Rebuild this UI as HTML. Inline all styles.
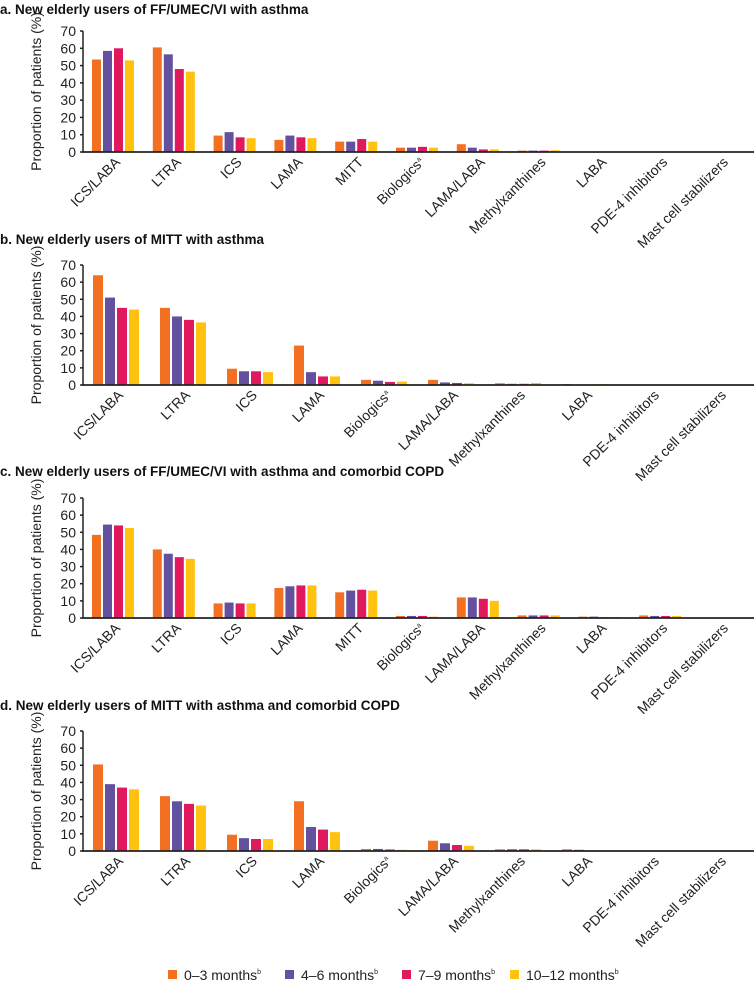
<!DOCTYPE html>
<html><head><meta charset="utf-8"><style>
body{margin:0;background:#fff;}
svg{display:block;font-family:"Liberation Sans",Arial,sans-serif;}
</style></head><body>
<svg id="chart" width="755" height="983" viewBox="0 0 755 983"></svg>
<script>
const series = ["0\u20133 months","4\u20136 months","7\u20139 months","10\u201312 months"];
const colors = ["#F36F21","#6351A0","#E0195F","#FFC20E"];
const catsFull = ["ICS/LABA","LTRA","ICS","LAMA","MITT","Biologics","LAMA/LABA","Methylxanthines","LABA","PDE-4 inhibitors","Mast cell stabilizers"];
const catsNoMitt = ["ICS/LABA","LTRA","ICS","LAMA","Biologics","LAMA/LABA","Methylxanthines","LABA","PDE-4 inhibitors","Mast cell stabilizers"];
const yTicks = [0,10,20,30,40,50,60,70];
const titles = ["a. New elderly users of FF/UMEC/VI with asthma","b. New elderly users of MITT with asthma","c. New elderly users of FF/UMEC/VI with asthma and comorbid COPD","d. New elderly users of MITT with asthma and comorbid COPD"];
const valuesA = [[53.5,58.5,60,53],[60.5,56.5,48,46.5],[9.5,11.5,8.5,8],[7,9.5,8.5,8],[6,6,7.5,6],[2.5,2.5,3,2.5],[4.5,2.5,1.5,1.5],[0.8,0.8,0.8,1],[0,0,0,0],[0,0,0,0],[0,0,0,0]];
const valuesB = [[64,51,45,44],[45,40,38,36.5],[9.5,8,8,7.5],[23,7.5,5,5],[3,2.5,1.8,2],[3,1.5,1.2,1],[1,0.7,0.7,1.2],[0.5,0,0,0.5],[0,0,0,0.3],[0,0,0,0]];
const valuesC = [[48.5,54.5,54,52.5],[40,37.5,35.5,34.5],[8.5,9,8.5,8.5],[17.5,18.5,19,19],[15,16,16.5,16],[1.2,1.2,1.2,0.8],[12,12,11.2,10],[1.5,1.5,1.5,1.5],[0.8,0.8,0.4,0.6],[1.5,1.2,1.2,1.2],[0,0,0,0]];
const valuesD = [[50.5,39,37,36],[32,29,27.5,26.5],[9.5,7.5,7,7],[29,14,12.5,11],[1.2,1.2,0.9,0.7],[6,4.5,3.5,3],[1,1,1,1],[1,0.7,0.3,0.3],[0,0,0,0],[0,0,0,0]];

const NS="http://www.w3.org/2000/svg";
const svg=document.getElementById('chart');
function mk(t,a,p){const e=document.createElementNS(NS,t);for(const k in a)e.setAttribute(k,a[k]);(p||svg).appendChild(e);return e;}

const panels=[
 {t:titles[0],ty:14,cats:catsFull,vals:valuesA,base:152,top:31,c0:113,pitch:60.8,bw:9,gap:2,key:'a'},
 {t:titles[1],ty:244,cats:catsNoMitt,vals:valuesB,base:385,top:265,c0:116,pitch:67,bw:10,gap:2,key:'b'},
 {t:titles[2],ty:476,cats:catsFull,vals:valuesC,base:618,top:498,c0:113,pitch:60.8,bw:9,gap:2,key:'c'},
 {t:titles[3],ty:710,cats:catsNoMitt,vals:valuesD,base:851,top:731,c0:116,pitch:67,bw:10,gap:2,key:'d'}
];
panels.forEach(p=>{
 const g=mk('g',{});
 
 
 const y=v=>p.base-(v/70)*(p.base-p.top);
 const x=i=>p.c0+i*p.pitch;
 const tt=mk('text',{x:0,y:p.ty,'font-size':13.5,'font-weight':'bold',fill:'#111'},g);tt.textContent=p.t;
 
 
 const yt=mk('text',{transform:`translate(41,${(p.base+p.top)/2}) rotate(-90)`,'text-anchor':'middle','font-size':14,fill:'#222'},g);yt.textContent='Proportion of patients (%)';
 
 
 yTicks.forEach(v=>{
  const l=mk('text',{x:76,y:y(v)+5,'text-anchor':'end','font-size':14,fill:'#222'},g);l.textContent=v;
  
  
  mk('line',{x1:80,x2:83,y1:y(v),y2:y(v),stroke:'#222','stroke-width':1.5},g);
 });
 p.cats.forEach((c,i)=>{
  const grpW=4*p.bw+3*p.gap;
  p.vals[i].forEach((v,s)=>{
   if(v<=0)return;
   const bx=x(i)-grpW/2+s*(p.bw+p.gap);
   const r=mk('rect',{x:bx,y:y(v),width:p.bw,height:p.base-y(v),fill:colors[s]},g);
   
   
  });
  const lb=mk('text',{transform:`translate(${x(i)+8},${p.base+11}) rotate(-45)`,'text-anchor':'end','font-size':14,fill:'#222'},g);
  lb.textContent=c;
  if(c==='Biologics'){const sp=mk('tspan',{'font-size':7,dy:-5},lb);sp.textContent='a';}
  
  
 });
 mk('line',{x1:83,x2:83,y1:p.top,y2:p.base,stroke:'#222','stroke-width':1.5},g);
 mk('line',{x1:82,x2:754,y1:p.base,y2:p.base,stroke:'#222','stroke-width':1.8},g);
});
const lx=[168,285,402,510];
series.forEach((s,i)=>{
 const g=mk('g',{});
 
 
 mk('rect',{x:lx[i],y:970,width:9,height:9,fill:colors[i]},g);
 const t=mk('text',{x:lx[i]+16,y:980,'font-size':14,fill:'#222'},g);t.textContent=s;
 const sp=mk('tspan',{'font-size':7,dy:-6},t);sp.textContent='b';
});
</script>
</body></html>
